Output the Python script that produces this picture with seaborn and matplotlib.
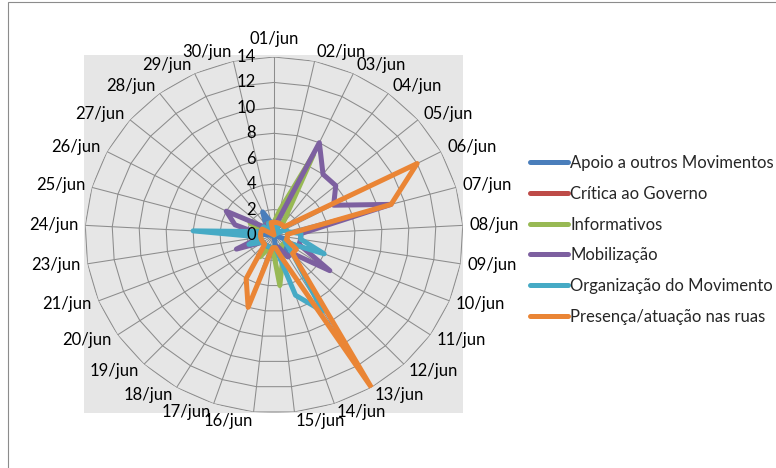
import numpy as np
import pandas as pd
import seaborn as sns
import matplotlib.pyplot as plt
from matplotlib.patches import Rectangle

# categorias (dias de junho, sem o dia 22)
dias = ['01/jun', '02/jun', '03/jun', '04/jun', '05/jun', '06/jun', '07/jun', '08/jun',
        '09/jun', '10/jun', '11/jun', '12/jun', '13/jun', '14/jun', '15/jun', '16/jun',
        '17/jun', '18/jun', '19/jun', '20/jun', '21/jun', '23/jun', '24/jun', '25/jun',
        '26/jun', '27/jun', '28/jun', '29/jun', '30/jun']

# valores
apoio = [0, 0, 1, 0, 0, 0, 0, 0, 0, 1, 1, 1, 2, 1, 1, 0, 0, 0, 0, 0, 0, 0, 1, 0, 0, 0, 1, 2, 1]
critica = [0, 0, 0, 0, 0, 0, 0, 0, 0, 0, 0, 0, 0, 0, 0, 0, 0, 0, 0, 0, 0, 0, 0, 0, 0, 0, 0, 0, 0]
informativos = [1, 2, 7, 1, 1, 1, 1, 1, 1, 1, 1, 1, 1, 2, 4, 1, 1, 2, 1, 1, 1, 1, 1, 1, 2, 1, 1, 1, 1]
mobilizacao = [1, 1, 8, 6, 6, 5, 9, 2, 2, 2, 5, 2, 2, 1, 1, 1, 1, 1, 1, 1, 3, 1, 1, 3, 4, 1, 1, 1, 1]
organizacao = [0, 1, 1, 0, 0, 1, 1, 2, 2, 4, 1, 2, 7, 5, 1, 1, 1, 1, 1, 1, 2, 1, 6, 1, 1, 1, 0, 1, 1]
presenca = [1, 1, 1, 1, 1, 12, 9, 1, 1, 1, 2, 2, 14, 2, 1, 1, 6, 4, 1, 1, 1, 1, 1, 1, 1, 0, 0, 0, 1]

series_nomes = ['Apoio a outros Movimentos', 'Crítica ao Governo', 'Informativos',
                'Mobilização', 'Organização do Movimento', 'Presença/atuação nas ruas']
cores = ['#4A7EBB', '#BE4B48', '#98B954', '#7D60A0', '#46AAC5', '#EA8535']
niveis = [0, 2, 4, 6, 8, 10, 12, 14]

sns.set_theme(style='white')
plt.rcParams['font.family'] = ['Lato', 'DejaVu Sans']

W, H = 776, 468
n = len(dias)
theta = np.linspace(0, 2 * np.pi, n, endpoint=False)
theta_fechado = np.append(theta, 2 * np.pi)

linhas = []
for nome, vals in zip(series_nomes, [apoio, critica, informativos, mobilizacao, organizacao, presenca]):
    for t, v in zip(theta_fechado, vals + vals[:1]):
        linhas.append({'theta': t, 'valor': v, 'serie': nome})
df = pd.DataFrame(linhas)

fig = plt.figure(figsize=(W / 100, H / 100), dpi=100)
fig.patches.append(Rectangle((8 / W, -0.01), 1, 1 - 2 / H + 0.01, transform=fig.transFigure,
                             fill=False, edgecolor='#8C8C8C', lw=0.8, zorder=-2))
fig.patches.append(Rectangle((84 / W, 1 - 413 / H), (463 - 84) / W, (413 - 55) / H,
                             transform=fig.transFigure, facecolor='#E6E6E6',
                             edgecolor='none', zorder=-1))

ax = fig.add_axes([85 / W, 1 - 413 / H, (463 - 85) / W, (413 - 57) / H], projection='polar')
ax.set_aspect('auto')
ax.patch.set_visible(False)
ax.set_theta_zero_location('N')
ax.set_theta_direction(-1)

# grade poligonal do radar
for nv in niveis[1:]:
    ax.plot(theta_fechado, [nv] * (n + 1), color='#8C8C8C', lw=0.75, zorder=1)
for t in theta:
    ax.plot([t, t], [0, 14], color='#8C8C8C', lw=0.75, zorder=1)

sns.lineplot(data=df, x='theta', y='valor', hue='serie', palette=cores, sort=False,
             estimator=None, lw=3.6, ax=ax, solid_joinstyle='round', solid_capstyle='round',
             zorder=3)

ax.set_ylim(0, 14)
ax.set_xticks([])
ax.set_yticks([])
ax.grid(False)
ax.spines['polar'].set_visible(False)
ax.set_xlabel('')
ax.set_ylabel('')

for nv in niveis:
    ax.annotate(str(nv), xy=(0, nv), xytext=(-18, 0), textcoords='offset pixels',
                ha='right', va='center', fontsize=12, color='black', annotation_clip=False)

rotulos = []
for t, d in zip(theta, dias):
    rotulos.append(ax.annotate(d, xy=(t, 14), xytext=(0, 0), textcoords='offset pixels',
                               ha='center', va='center', fontsize=12, color='black',
                               annotation_clip=False))

sns.move_legend(ax, 'center left', bbox_to_anchor=(530 / W, 1 - 240 / H),
                bbox_transform=fig.transFigure, frameon=False, title=None, fontsize=12,
                handlelength=2.3, handletextpad=0.12, labelspacing=0.88,
                borderpad=0, borderaxespad=0)
for linha in ax.get_legend().get_lines():
    linha.set_linewidth(3.6)
    linha.set_solid_capstyle('round')

fig.canvas.draw()
renderer = fig.canvas.get_renderer()
for txt, t in zip(rotulos, theta):
    bb = txt.get_window_extent(renderer)
    s, c = np.sin(t), np.cos(t)
    if abs(s) < 0.05:
        txt.xyann = (0, c * (bb.height / 2 + 10))
    else:
        txt.xyann = (s * 7 + np.sign(s) * bb.width / 2, c * (bb.height / 2 + 1))

fig.savefig('out.png', dpi=100)
